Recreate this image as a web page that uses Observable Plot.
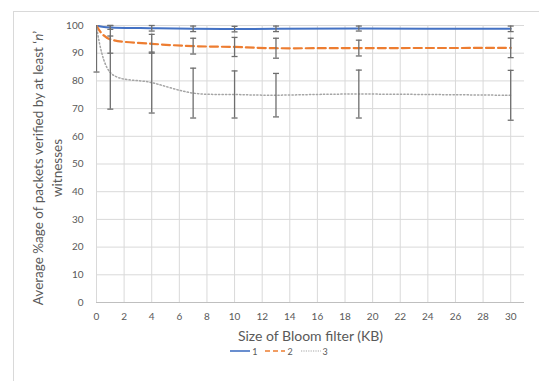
<!DOCTYPE html>
<html><head><meta charset="utf-8">
<script src="https://cdn.jsdelivr.net/npm/d3@7"></script>
<script src="https://cdn.jsdelivr.net/npm/@observablehq/plot@0.6"></script>
<style>
body{margin:0;background:#fff;}
#wrap{position:relative;width:539px;height:381px;overflow:hidden;font-family:Lato,"Open Sans",sans-serif;}
#frame{position:absolute;left:13px;top:11px;width:700px;height:500px;border-left:1px solid #d9d9d9;border-top:1px solid #d9d9d9;pointer-events:none;}
#chart{position:absolute;left:0;top:0;}
#legend{position:absolute;top:344px;left:0;width:539px;height:14px;display:flex;justify-content:center;align-items:center;gap:8px;font-size:9px;color:#595959;padding-left:19px;box-sizing:border-box;}
#legend .item{display:flex;align-items:center;gap:2px;}
</style>
</head><body>
<div id="wrap"><div id="chart"></div><div id="legend"></div><div id="frame"></div></div>
<script>
// Data
const sizesKB = [0, 1, 4, 7, 10, 13, 19, 30];
const seriesNames = ["1", "2", "3"];
const series1 = [100, 99.3, 99.0, 98.8, 98.7, 98.8, 98.9, 98.8];
const err1    = [0,   0.7,  1.0,  1.0,  1.0,  1.0,  0.9,  1.0];
const series2 = [100, 95.0, 93.4, 92.55, 92.25, 91.8, 91.85, 91.9];
const err2    = [0,   5.0,  3.4,  2.85,  3.45,  3.6,  2.85,  3.5];
const series3 = [100, 83.0, 79.4, 75.6, 75.1, 74.85, 75.25, 74.8];
const err3    = [16.8, 13.2, 11.0, 9.0, 8.5, 7.85, 8.65, 9.0];
const xTicks = [0, 2, 4, 6, 8, 10, 12, 14, 16, 18, 20, 22, 24, 26, 28, 30];
const yTicks = [0, 10, 20, 30, 40, 50, 60, 70, 80, 90, 100];
const colors = ["#4472C4", "#ED7D31", "#A5A5A5"];
const dashes = [null, "8,4", "1.3,2.2"];
const widths = [2, 2.2, 1.5];

const allValues = [series1, series2, series3];
const allErrs = [err1, err2, err3];
const rows = [];
allValues.forEach((vals, si) => vals.forEach((v, i) => rows.push({x: sizesKB[i], y: v, e: allErrs[si][i], s: seriesNames[si]})));
const errRows = rows.filter(d => d.e > 0);
const capRows = errRows.flatMap(d => [{x: d.x, y: d.y - d.e}, {x: d.x, y: d.y + d.e}]).filter(d => d.y <= 100);

const capSymbol = {draw(ctx) { ctx.moveTo(-3, 0); ctx.lineTo(3, 0); }};

const font = "Lato, 'Open Sans', sans-serif";
const lineMarks = seriesNames.map((s, si) => Plot.line(rows.filter(d => d.s === s), {
  x: "x", y: "y", stroke: colors[si], strokeWidth: widths[si], strokeDasharray: dashes[si],
  curve: "cardinal", tension: 0, clip: true
}));

const chart = Plot.plot({
  width: 539, height: 381,
  marginLeft: 96, marginRight: 15, marginTop: 25, marginBottom: 79,
  x: {domain: [0, 31]},
  y: {domain: [0, 100]},
  style: {fontFamily: font, fontSize: "10px", color: "#595959", background: "transparent"},
  marks: [
    Plot.gridX(xTicks, {stroke: "#d9d9d9", strokeOpacity: 1}),
    Plot.gridY(yTicks.filter(v => v > 0), {stroke: "#d9d9d9", strokeOpacity: 1}),
    Plot.ruleY([0], {stroke: "#bfbfbf"}),
    Plot.axisX(xTicks, {tickSize: 0, tickPadding: 10, label: null, fill: "#595959"}),
    Plot.axisY(yTicks, {tickSize: 0, tickPadding: 13, label: null, fill: "#595959"}),
    ...lineMarks,
    Plot.ruleX(errRows, {x: "x", y1: d => d.y - d.e, y2: d => d.y + d.e, stroke: "#6e6e6e", strokeWidth: 1.3, clip: true}),
    Plot.dot(capRows, {x: "x", y: "y", symbol: capSymbol, stroke: "#6e6e6e", strokeWidth: 1.3, fill: "none"}),
    Plot.text(["Size of Bloom filter (KB)"], {frameAnchor: "bottom", dy: 34, fontSize: 14, fill: "#595959", lineAnchor: "middle"})
  ]
});
document.getElementById("chart").appendChild(chart);

// Y axis title (two lines, italic n)
const svg = d3.select(chart);
const yt = svg.append("text")
  .attr("transform", "translate(38,168) rotate(-90)")
  .attr("text-anchor", "middle")
  .attr("font-family", font).attr("font-size", 13.5).attr("fill", "#595959");
yt.append("tspan").attr("x", 0).attr("dy", "0.35em").text("Average %age of packets verified by at least \u2018");
yt.append("tspan").attr("font-style", "italic").text("n");
yt.append("tspan").text("\u2019");
svg.append("text")
  .attr("transform", "translate(57,168) rotate(-90)")
  .attr("text-anchor", "middle").attr("dy", "0.35em")
  .attr("font-family", font).attr("font-size", 13.5).attr("fill", "#595959")
  .text("witnesses");

// Legend
const legend = d3.select("#legend");
seriesNames.forEach((s, si) => {
  const item = legend.append("div").attr("class", "item");
  const sv = item.append("svg").attr("width", 20).attr("height", 6);
  sv.append("line").attr("x1", 0).attr("x2", 20).attr("y1", 3).attr("y2", 3)
    .attr("stroke", colors[si]).attr("stroke-width", si === 2 ? 1.2 : 1.6)
    .attr("stroke-dasharray", si === 1 ? "5,3" : (si === 2 ? "1.2,1.2" : null));
  item.append("span").text(s);
});
</script>
</body></html>
